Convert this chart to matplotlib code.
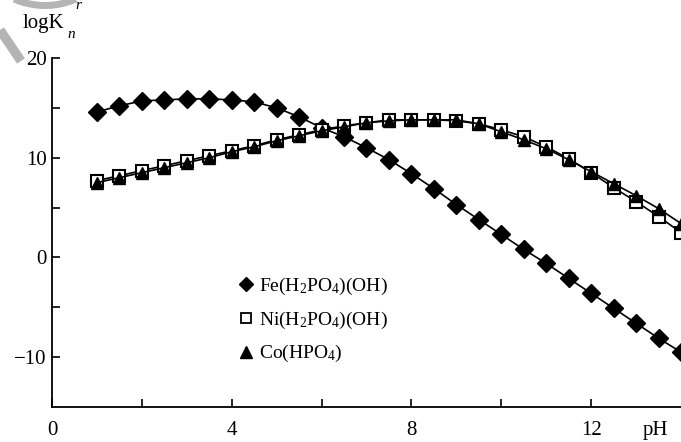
"""logK vs pH for three metal phosphate complexes"""

import matplotlib
matplotlib.use("Agg")
import matplotlib.pyplot as plt
from matplotlib.lines import Line2D
import numpy as np

plt.rcParams["font.family"] = ["Liberation Serif", "DejaVu Serif"]
plt.rcParams["mathtext.fontset"] = "custom"
plt.rcParams["mathtext.rm"] = "Liberation Serif"
plt.rcParams["mathtext.it"] = "Liberation Serif:italic"

PH = [1, 1.5, 2, 2.5, 3, 3.5, 4, 4.5, 5, 5.5, 6, 6.5, 7, 7.5, 8, 8.5, 9,
      9.5, 10, 10.5, 11, 11.5, 12, 12.5, 13, 13.5, 14]
FE = [14.6, 15.2, 15.7, 15.8, 15.9, 15.9, 15.8, 15.6, 15.0, 14.1, 13.0, 12.1,
      11.0, 9.8, 8.4, 6.9, 5.3, 3.8, 2.3, 0.8, -0.6, -2.1, -3.6, -5.1, -6.6,
      -8.1, -9.5]
NI = [7.7, 8.2, 8.7, 9.2, 9.7, 10.2, 10.7, 11.2, 11.8, 12.3, 12.8, 13.2, 13.5,
      13.8, 13.8, 13.8, 13.7, 13.4, 12.8, 12.1, 11.1, 9.9, 8.5, 7.0, 5.6, 4.1,
      2.5]
CO = [7.5, 8.0, 8.5, 9.0, 9.5, 10.0, 10.6, 11.1, 11.7, 12.2, 12.7, 13.1, 13.5,
      13.7, 13.8, 13.8, 13.8, 13.4, 12.6, 11.8, 10.9, 9.8, 8.6, 7.4, 6.2, 4.9,
      3.4]
LABELS = [r"Fe(H$_2$PO$_4$)(OH)", r"Ni(H$_2$PO$_4$)(OH)", r"Co(HPO$_4$)"]
X_TICKS = [0, 4, 8, 12]
Y_TICKS = [-10, 0, 10, 20]

W, H = 681, 442
fig = plt.figure(figsize=(W / 100, H / 100), dpi=100)
ax = fig.add_axes([52 / W, 1 - 407 / H, 629 / W, 349 / H])

ax.plot(PH, FE, "-", color="black", lw=1.2, marker="D", ms=9,
        mfc="black", mec="black", zorder=3)
ax.plot(PH, NI, "-", color="black", lw=1.2, marker="s", ms=8.5,
        mfc="white", mec="black", mew=1.5, zorder=3)
ax.plot(PH, CO, "-", color="black", lw=1.2, marker="^", ms=9,
        mfc="black", mec="black", zorder=4)

ax.set_xlim(0, 14)
ax.set_ylim(-15, 20)
ax.set_xticks(X_TICKS)
ax.set_xticks([2, 6, 10], minor=True)
ax.set_yticks(Y_TICKS)
ax.set_yticks([-5, 5, 15], minor=True)
ax.set_yticklabels(["\u221210", "0", "10", "20"])
ax.tick_params(which="both", direction="in", length=6, width=1.2,
               labelsize=15, color="black")
ax.tick_params(axis="x", which="both", pad=10)
ax.tick_params(axis="y", which="both", pad=4)
for side in ["top", "right"]:
    ax.spines[side].set_visible(False)
for side in ["left", "bottom"]:
    ax.spines[side].set_linewidth(1.3)

# axis titles
fig.text(23 / W, 1 - 28 / H, "logK", fontsize=15, ha="left", va="baseline")
fig.text(67 / W, 1 - 38 / H, "n", fontsize=11, style="italic", ha="left", va="baseline")
fig.text(75 / W, 1 - 9 / H, "r", fontsize=11, style="italic", ha="left", va="baseline")
fig.text(643 / W, 1 - 430 / H, "pH", fontsize=15, ha="left", va="center")

# grey watermark fragment in the top-left corner
t = np.radians(np.linspace(200, 340, 60))
fig.add_artist(Line2D((45 + 76.5 * np.cos(t)) / W, (H + 71 + 76.5 * np.sin(t)) / H,
                      transform=fig.transFigure, color="#b4b4b4", lw=5,
                      solid_capstyle="butt", zorder=0))
fig.add_artist(Line2D([0, 21 / W], [1 - 30 / H, 1 - 61 / H],
                      transform=fig.transFigure, color="#b4b4b4", lw=6.8,
                      solid_capstyle="butt", zorder=0))

handles = [
    Line2D([], [], ls="none", marker="D", ms=7, mfc="black", mec="black"),
    Line2D([], [], ls="none", marker="s", ms=7, mfc="white", mec="black", mew=1.3),
    Line2D([], [], ls="none", marker="^", ms=9, mfc="black", mec="black"),
]
ax.legend(handles, LABELS, loc="upper left", bbox_to_anchor=(230 / W, 1 - 268 / H),
          bbox_transform=fig.transFigure, frameon=False, fontsize=14,
          handlelength=0.8, handletextpad=0.3, labelspacing=0.65, borderaxespad=0)

fig.savefig("out.png", dpi=100)
plt.close(fig)
